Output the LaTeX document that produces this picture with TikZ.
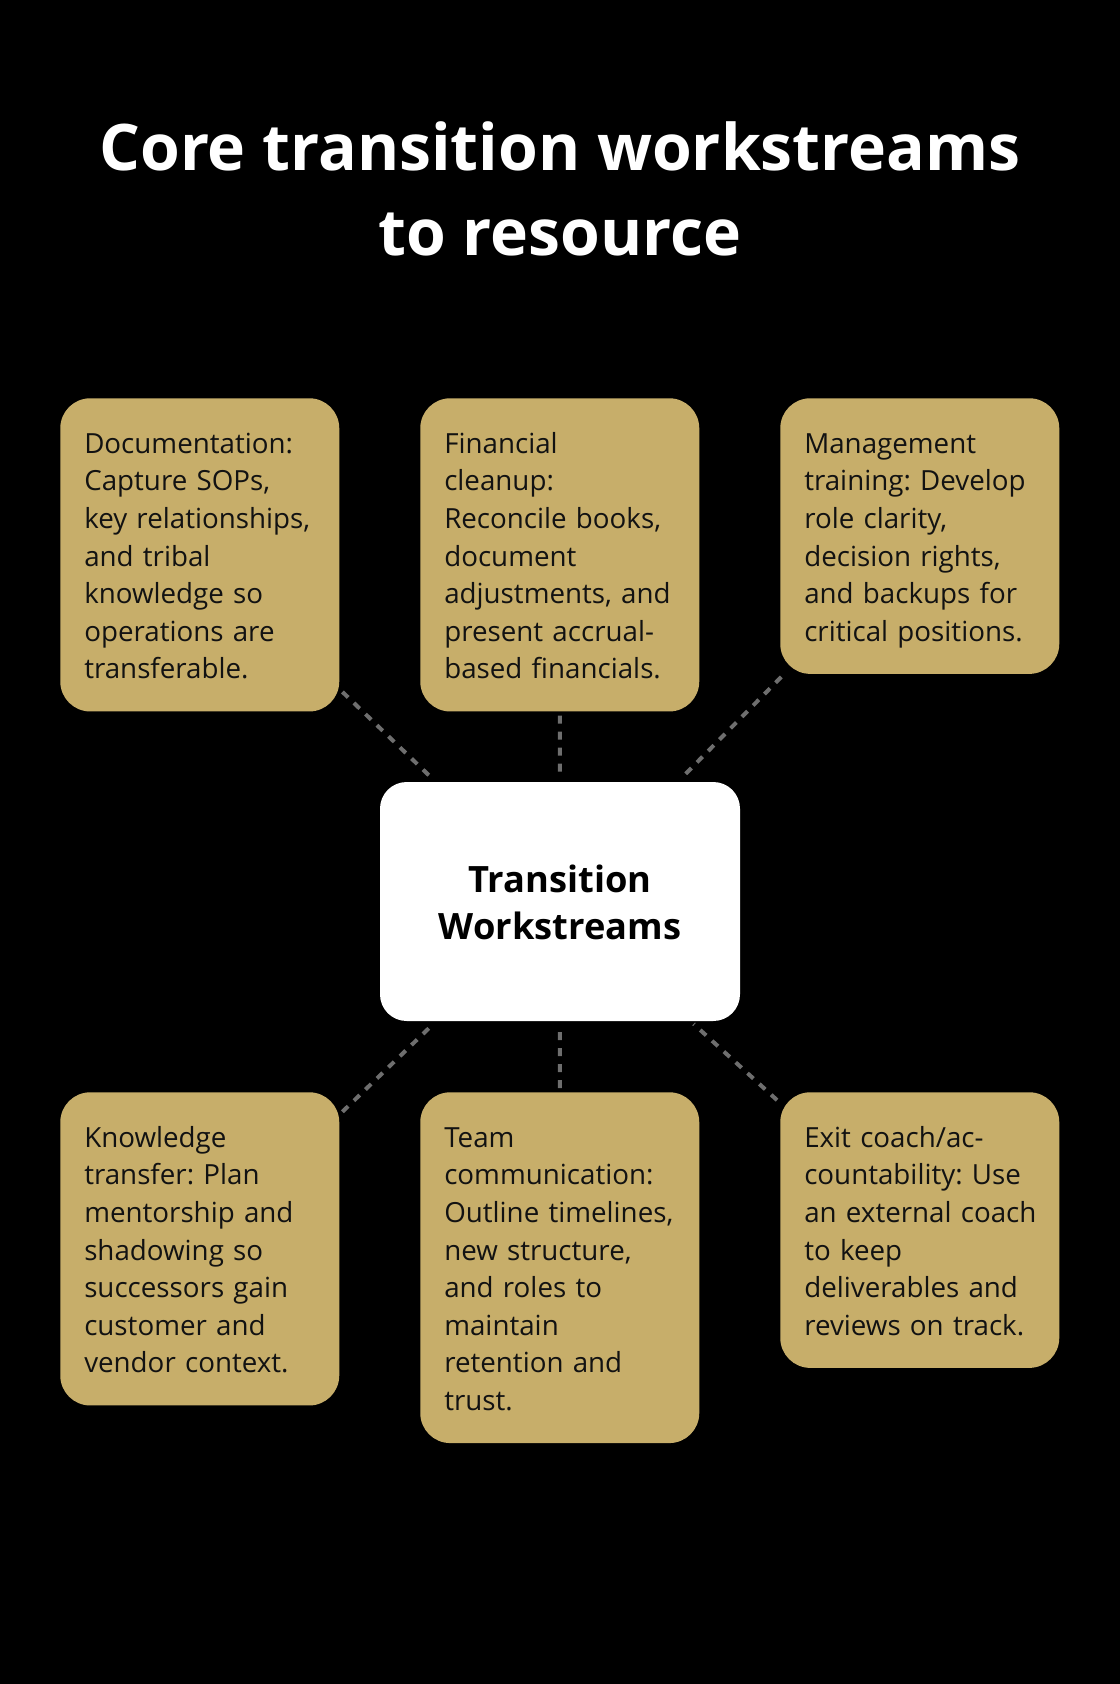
\documentclass[tikz,border=0pt]{standalone}
\usepackage{fontspec}
\setmainfont{Open Sans}
\definecolor{gold}{RGB}{199,174,106}
\definecolor{linegray}{RGB}{110,110,110}
\newcommand\ls{\rule[-0.2\baselineskip]{0pt}{\baselineskip}}
\newcommand\gl[1]{\ls\mbox{#1}}
\tikzset{
  gbox/.style={fill=gold, rounded corners=22.5pt, inner xsep=18pt, inner ysep=18.75pt,
    text width=173.25pt, minimum width=209.25pt, align=left, anchor=north west,
    font=\frenchspacing\fontsize{20.8pt}{28.2pt}\selectfont, text=black!93},
  cbox/.style={fill=white, rounded corners=20pt, inner sep=0pt, minimum width=270pt,
    minimum height=179.25pt, align=center, text=black,
    font=\bfseries\fontsize{27.2pt}{35.4pt}\selectfont},
  conn/.style={draw=linegray, line width=3pt, dash pattern=on 6pt off 6pt,
    shorten <=3pt, shorten >=3pt}
}
\begin{document}
\begin{tikzpicture}[x=0.75pt,y=-0.75pt]
\fill[black] (0,0) rectangle (1120,1684);
\useasboundingbox (0,0) rectangle (1120,1684);

\node[anchor=north, align=center, text=white, inner sep=0pt,
  font=\bfseries\fontsize{48.2pt}{63.75pt}\selectfont] (title) at (560,102)
  {\ls Core transition workstreams\\\ls to resource};

\node[cbox] (c) at (560,901.5) {\ls Transition\\\ls Workstreams};

\node[gbox] (tl) at (60,398) {\gl{Documentation:}\\\gl{Capture SOPs,}\\\gl{key relationships,}\\\gl{and tribal}\\\gl{knowledge so}\\\gl{operations are}\\\gl{transferable.}};
\node[gbox] (tm) at (420,398) {\gl{Financial}\\\gl{cleanup:}\\\gl{Reconcile books,}\\\gl{document}\\\gl{adjustments, and}\\\gl{present accrual-}\\\gl{based financials.}};
\node[gbox] (tr) at (780,398) {\gl{Management}\\\gl{training: Develop}\\\gl{role clarity,}\\\gl{decision rights,}\\\gl{and backups for}\\\gl{critical positions.}};

\node[gbox] (bl) at (60,1092) {\gl{Knowledge}\\\gl{transfer: Plan}\\\gl{mentorship and}\\\gl{shadowing so}\\\gl{successors gain}\\\gl{customer and}\\\gl{vendor context.}};
\node[gbox] (bm) at (420,1092) {\gl{Team}\\\gl{communication:}\\\gl{Outline timelines,}\\\gl{new structure,}\\\gl{and roles to}\\\gl{maintain}\\\gl{retention and}\\\gl{trust.}};
\node[gbox] (br) at (780,1092) {\gl{Exit coach/ac-}\\\gl{countability: Use}\\\gl{an external coach}\\\gl{to keep}\\\gl{deliverables and}\\\gl{reviews on track.}};

\draw[conn] (tl) -- (c);
\draw[conn] (tm) -- (c);
\draw[conn] (tr) -- (c);
\draw[conn] (bl) -- (c);
\draw[conn] (bm) -- (c);
\draw[conn] (br) -- (c);
\end{tikzpicture}
\end{document}
